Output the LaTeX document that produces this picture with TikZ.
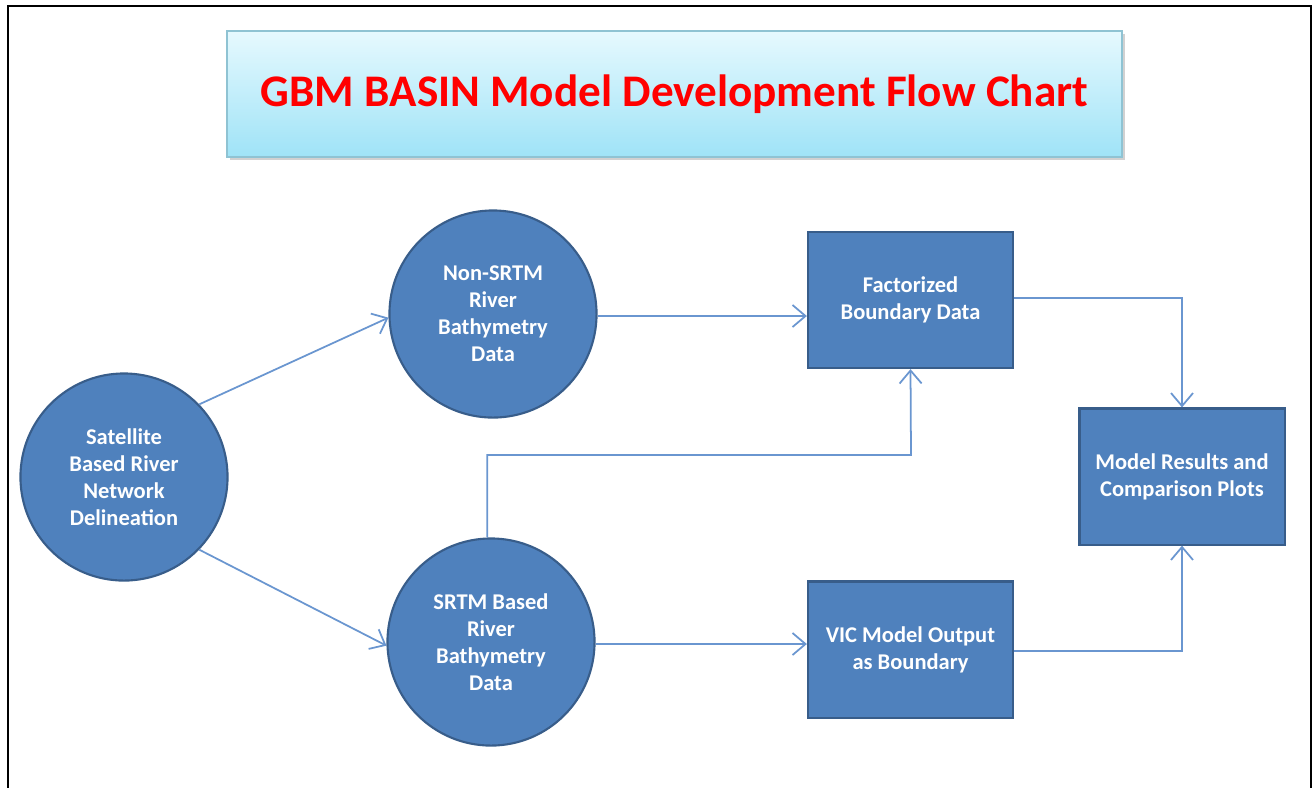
\documentclass[tikz,border=0pt]{standalone}
\usepackage{fontspec}
\setmainfont{Carlito}
\usetikzlibrary{arrows.meta,calc}
\definecolor{boxfill}{HTML}{4F81BD}
\definecolor{boxline}{HTML}{385D8A}
\definecolor{conn}{HTML}{6A96D0}
\definecolor{titletop}{HTML}{E6F9FE}
\definecolor{titlebot}{HTML}{9FE3F7}
\definecolor{titleline}{HTML}{8FC3D3}
\definecolor{titlered}{HTML}{FF0000}
\tikzset{
  circnode/.style={circle, fill=boxfill, draw=boxline, line width=0.6pt, minimum size=2.07cm, inner sep=0pt,
    text=white, font=\bfseries\fontsize{6.4}{7.7}\selectfont, align=center},
  rectnode/.style={rectangle, fill=boxfill, draw=boxline, line width=0.6pt, minimum width=2.05cm, minimum height=1.36cm, inner sep=0pt,
    text=white, font=\bfseries\fontsize{6.4}{7.7}\selectfont, align=center},
  conline/.style={draw=conn, line width=0.5pt, -{Straight Barb[length=1.3mm,width=2.2mm,line width=0.5pt]}},
}
\begin{document}
\begin{tikzpicture}[x=0.01cm,y=-0.01cm]
\useasboundingbox (0,0) rectangle (1315,787);
% frame
\draw[line width=0.7pt] (8,790) -- (8,6) -- (1311,6) -- (1311,790);
% title
\fill[black!18] (230,34) rectangle (1125,160);
\node[rectangle, top color=titletop, bottom color=titlebot, draw=titleline, line width=0.5pt,
  minimum width=8.95cm, minimum height=1.26cm, inner sep=0pt,
  text=titlered, font=\bfseries\fontsize{12.85}{14}\selectfont] (title) at (674.5,94) {GBM BASIN Model Development Flow Chart};
% nodes
\node[circnode] (sat) at (124,477) {Satellite\\Based River\\Network\\Delineation};
\node[circnode] (non) at (493,314) {Non-SRTM\\River\\Bathymetry\\Data};
\node[circnode] (srtm) at (491,642) {SRTM Based\\River\\Bathymetry\\Data};
\node[rectnode] (fact) at (910.5,300) {Factorized\\Boundary Data};
\node[rectnode] (vic) at (910.5,649.5) {VIC Model Output\\as Boundary};
\node[rectnode] (model) at (1182,476.5) {Model Results and\\Comparison Plots};
\coordinate (bend) at (911,455);
% connectors
\draw[conline] (sat.44) -- (non.182);
\draw[conline] (sat.-44) -- (srtm.182);
\draw[conline] (non.east |- 0,316) -- (fact.west |- 0,316);
\draw[conline] (srtm.east |- 0,644) -- (vic.west |- 0,644);
\draw[conline] (srtm.92) |- (bend) -- (fact.south);
\draw[conline] (fact.east |- 0,298) -| (model.north);
\draw[conline] (vic.east |- 0,651) -| (model.south);
\end{tikzpicture}
\end{document}
